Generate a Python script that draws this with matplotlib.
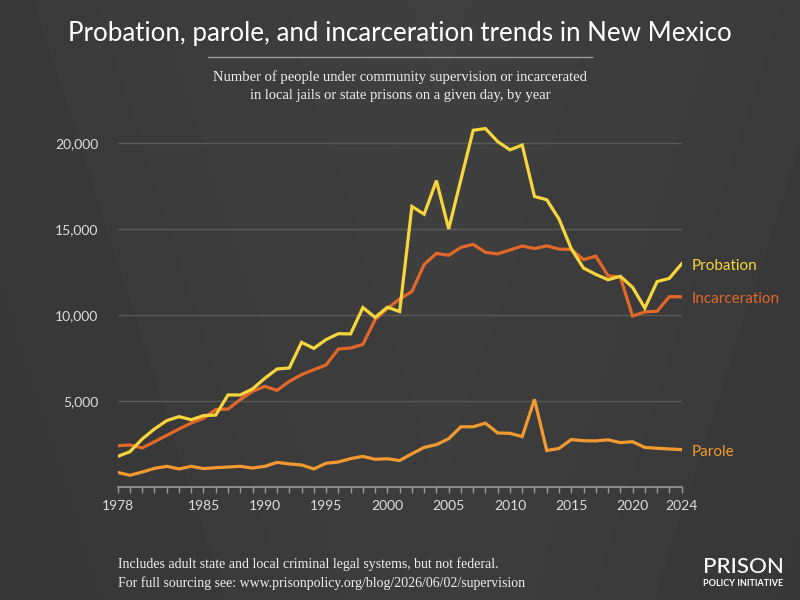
import numpy as np
import matplotlib
matplotlib.use("Agg")
import matplotlib.pyplot as plt
from matplotlib.ticker import FuncFormatter

years = list(range(1978, 2025))
probation = [1800, 2070, 2810, 3390, 3880, 4110, 3930, 4170, 4200, 5370,
             5370, 5720, 6340, 6880, 6940, 8430, 8080, 8590, 8930, 8920,
             10450, 9880, 10470, 10220, 16330, 15880, 17830, 15020, 17900, 20760,
             20860, 20100, 19620, 19900, 16910, 16720, 15600, 13870, 12750, 12380,
             12070, 12270, 11630, 10420, 11960, 12150, 12990]
incarceration = [2420, 2460, 2290, 2650, 3020, 3390, 3740, 4010, 4520, 4550,
                 5100, 5580, 5870, 5640, 6160, 6550, 6840, 7110, 8040, 8100,
                 8310, 9750, 10400, 10950, 11380, 12960, 13600, 13490, 13950, 14130,
                 13660, 13570, 13800, 14030, 13880, 14040, 13850, 13830, 13240, 13440,
                 12300, 12230, 9960, 10200, 10240, 11080, 11080]
parole = [870, 700, 890, 1100, 1220, 1070, 1220, 1090, 1140, 1180,
          1220, 1120, 1220, 1450, 1360, 1300, 1070, 1400, 1470, 1670,
          1800, 1630, 1660, 1560, 1950, 2320, 2480, 2830, 3520, 3520,
          3730, 3160, 3140, 2950, 5110, 2140, 2260, 2780, 2710, 2700,
          2760, 2600, 2650, 2320, 2270, 2230, 2190]
xtick_years = [1978, 1985, 1990, 1995, 2000, 2005, 2010, 2015, 2020, 2024]
yticks = [5000, 10000, 15000, 20000]

title = "Probation, parole, and incarceration trends in New Mexico"
subtitle = ("Number of people under community supervision or incarcerated\n"
            "in local jails or state prisons on a given day, by year")
foot1 = "Includes adult state and local criminal legal systems, but not federal."
foot2 = "For full sourcing see: www.prisonpolicy.org/blog/2026/06/02/supervision"

C_PROB = "#f7d53c"
C_INC = "#e2682a"
C_PAR = "#f29a30"
SANS = ["Lato", "DejaVu Sans"]
SERIF = ["Liberation Serif", "DejaVu Serif"]

fig = plt.figure(figsize=(8, 6), dpi=100)

# background gradient
bg = fig.add_axes([0, 0, 1, 1], zorder=-10)
yy, xx = np.mgrid[0:1:300j, 0:1:400j]
g = 0.252 - 0.025 * np.abs(xx - 0.55) * 2 - 0.012 * yy
bg.imshow(g, cmap="gray", vmin=0, vmax=1, aspect="auto", extent=[0, 1, 0, 1])
bg.set_axis_off()

ax = fig.add_axes([0.1471, 0.1878, 0.7049, 0.6163])
ax.set_facecolor("none")
ax.plot(years, probation, color=C_PROB, lw=2.3, solid_joinstyle="miter", zorder=3)
ax.plot(years, incarceration, color=C_INC, lw=2.3, solid_joinstyle="miter", zorder=2)
ax.plot(years, parole, color=C_PAR, lw=2.3, solid_joinstyle="miter", zorder=2)

ax.set_xlim(1978, 2024)
ax.set_ylim(0, 21500)
for s in ["top", "right", "left"]:
    ax.spines[s].set_visible(False)
ax.spines["bottom"].set_color("#9a9a9a")
ax.spines["bottom"].set_linewidth(1.2)

ax.set_yticks(yticks)
ax.yaxis.set_major_formatter(FuncFormatter(lambda v, p: f"{int(v):,}"))
ax.tick_params(axis="y", length=0, pad=14, labelsize=10, labelcolor="#dddddd")
ax.grid(axis="y", color="#595959", lw=1)
ax.set_axisbelow(True)

ax.set_xticks(xtick_years)
ax.set_xticks(years, minor=True)
ax.tick_params(axis="x", which="both", direction="out", length=4, width=1,
               color="#9a9a9a", labelsize=10, labelcolor="#dddddd", pad=5)
ax.tick_params(axis="x", which="minor", labelbottom=False)
for lab in ax.get_xticklabels() + ax.get_yticklabels():
    lab.set_family(SANS)

# series labels
off = -150
ax.text(2024.85, probation[-1] + off, "Probation", color=C_PROB, fontsize=11,
        family=SANS, va="center", ha="left", clip_on=False)
ax.text(2024.85, incarceration[-1] + off, "Incarceration", color=C_INC, fontsize=11,
        family=SANS, va="center", ha="left", clip_on=False)
ax.text(2024.85, parole[-1] + off, "Parole", color=C_PAR, fontsize=11,
        family=SANS, va="center", ha="left", clip_on=False)

fig.text(0.5, 1 - 33 / 600, title, ha="center", va="center", color="white",
         fontsize=18.6, family=SANS)
fig.add_artist(plt.Line2D([208 / 800, 592 / 800], [1 - 57 / 600, 1 - 57 / 600],
                          color="#9a9a9a", lw=1))
fig.text(0.5, 1 - 86 / 600, subtitle, ha="center", va="center", color="#eeeeee",
         fontsize=10.5, family=SERIF, linespacing=1.45)
fig.text(118 / 800, 1 - 564 / 600, foot1, ha="left", va="center", color="#eeeeee",
         fontsize=10, family=SERIF)
fig.text(118 / 800, 1 - 583 / 600, foot2, ha="left", va="center", color="#eeeeee",
         fontsize=10, family=SERIF)
fig.text(743 / 800, 1 - 567 / 600, "PRISON", ha="center", va="center", color="white",
         fontsize=16, family=SANS, fontweight="medium")
fig.text(743 / 800, 1 - 583 / 600, "POLICY INITIATIVE", ha="center", va="center",
         color="white", fontsize=6.5, family=SANS, fontweight="bold")

fig.savefig("out.png", dpi=100, facecolor="#3e3e3e")
